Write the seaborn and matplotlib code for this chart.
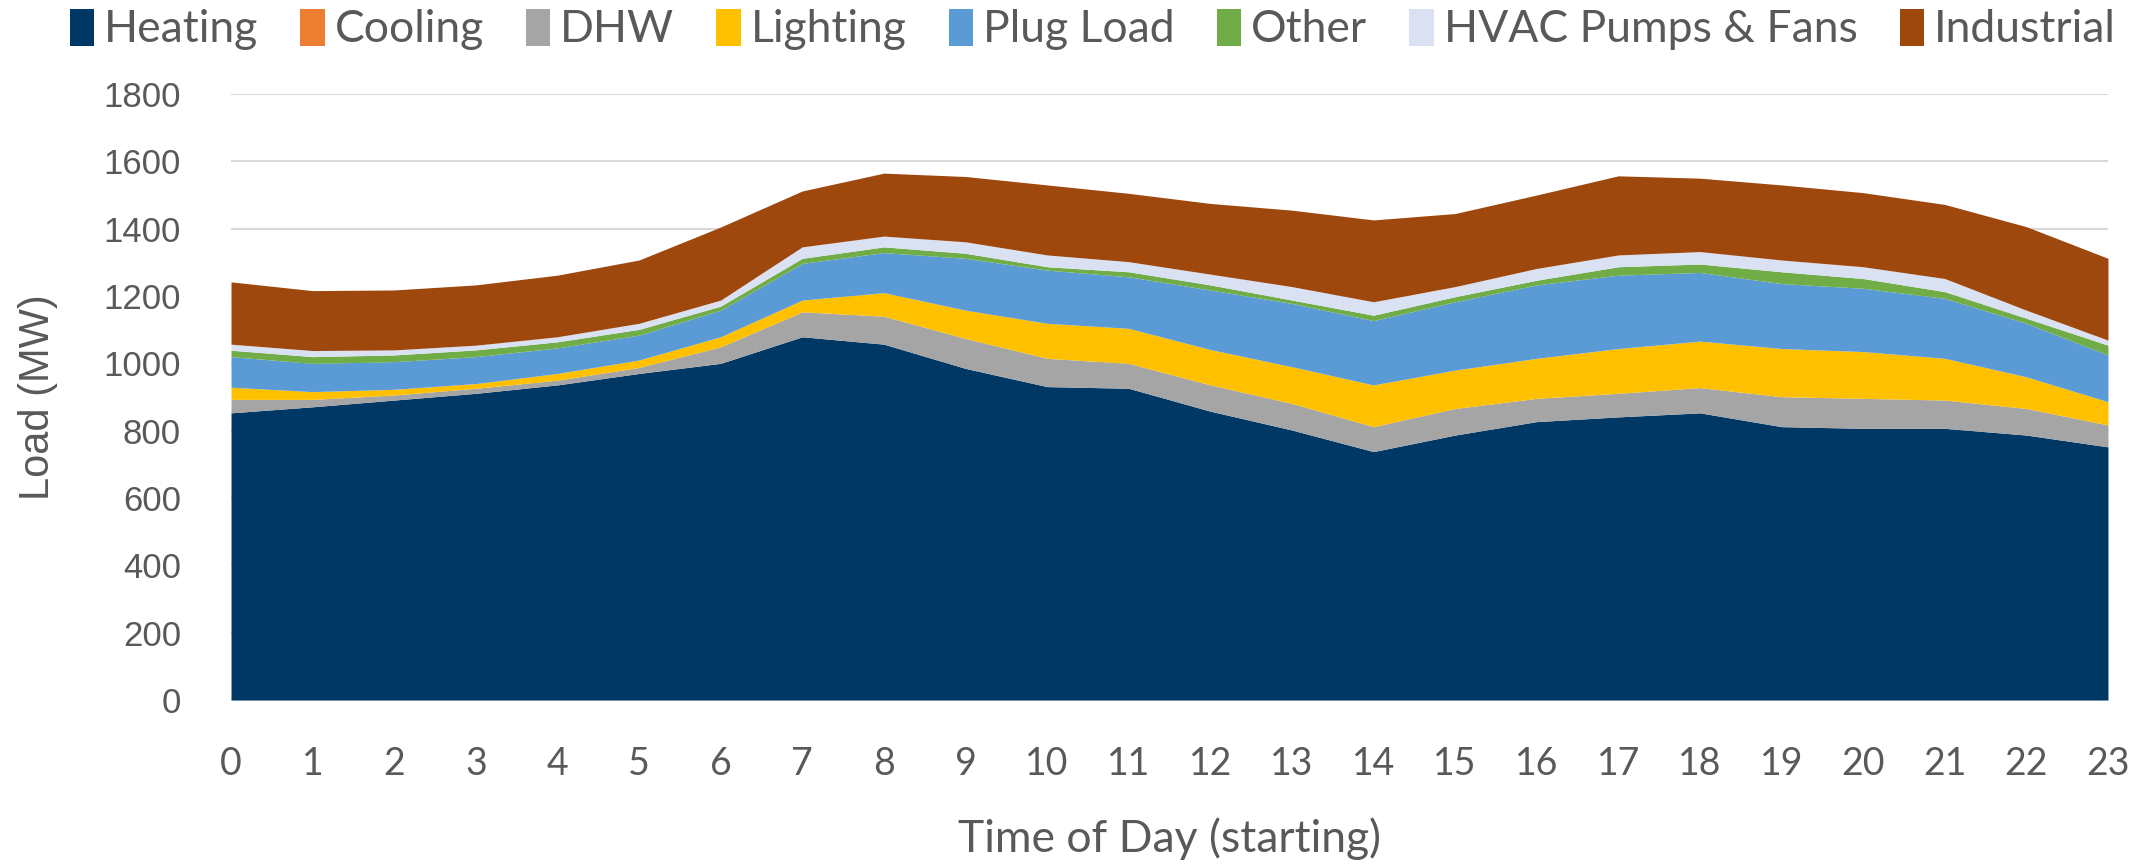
import matplotlib
matplotlib.use("Agg")
import matplotlib.pyplot as plt
import seaborn as sns
from matplotlib.patches import Patch

# hourly load by end use (MW)
hours = list(range(24))
heating = [853, 871, 891, 911, 936, 970, 1000, 1079, 1057, 985, 931, 926,
           858, 802, 738, 787, 827, 841, 853, 812, 807, 807, 787, 752]
cooling = [0] * 24
dhw = [40, 22, 15, 15, 14, 18, 49, 74, 83, 89, 84, 74,
       78, 79, 74, 79, 69, 70, 75, 89, 89, 84, 79, 65]
lighting = [36, 23, 17, 14, 20, 22, 30, 35, 70, 84, 104, 104,
            105, 109, 124, 114, 119, 133, 138, 143, 139, 124, 94, 69]
plug_load = [91, 84, 82, 80, 76, 74, 79, 109, 119, 154, 158, 153,
             177, 188, 191, 203, 218, 218, 204, 193, 188, 178, 159, 139]
other = [19, 20, 20, 20, 18, 17, 12, 15, 17, 15, 10, 15,
         15, 10, 16, 15, 14, 25, 25, 35, 29, 20, 15, 29]
hvac_pumps_fans = [18, 18, 15, 14, 15, 18, 18, 34, 32, 34, 35, 30,
                   32, 40, 40, 30, 35, 35, 37, 35, 35, 39, 24, 15]
industrial = [185, 178, 178, 179, 183, 188, 217, 166, 187, 194, 208, 203,
              210, 227, 243, 217, 218, 235, 218, 223, 220, 220, 248, 243]

labels = ["Heating", "Cooling", "DHW", "Lighting", "Plug Load", "Other",
          "HVAC Pumps & Fans", "Industrial"]
colors = ["#003865", "#ED7D31", "#A5A5A5", "#FFC000", "#5B9BD5", "#70AD47",
          "#D9E1F2", "#9E480E"]
yticks = list(range(0, 1801, 200))

sns.set_theme(style="white")
plt.rcParams['font.family'] = ['Lato', 'DejaVu Sans']
txt = "#595959"

fig = plt.figure(figsize=(21.51, 8.68), dpi=100)
ax = fig.add_axes([0.1074, 0.1935, 0.8726, 0.6982])

ax.stackplot(hours, heating, cooling, dhw, lighting, plug_load, other,
             hvac_pumps_fans, industrial, colors=colors, linewidth=0)

ax.set_xlim(0, 23)
ax.set_ylim(0, 1800)
ax.set_xticks(hours)
ax.set_yticks(yticks)
ax.set_yticklabels([str(v) for v in yticks], family='Liberation Sans')
ax.grid(axis='y', color='#D9D9D9', linewidth=1.5)
ax.grid(axis='x', visible=False)
ax.set_axisbelow(True)
sns.despine(ax=ax, left=True, bottom=True)

ax.tick_params(axis='x', labelsize=27, colors=txt, pad=33, length=0)
ax.tick_params(axis='y', labelsize=25, colors=txt, pad=36, length=0)

ax.set_xlabel("Time of Day (starting)", fontsize=32, color=txt)
ax.set_ylabel("Load (MW)", fontsize=30, color=txt, family='Liberation Sans')
ax.xaxis.set_label_coords(0.5, -0.228)
ax.xaxis.label.set_va('center')
ax.yaxis.set_label_coords(-0.103, 0.5)
ax.yaxis.label.set_va('center')

handles = [Patch(facecolor=c, edgecolor='none') for c in colors]
fig.legend(handles, labels, loc='center', bbox_to_anchor=(0.508, 0.966),
           ncol=8, frameon=False, fontsize=32, labelcolor=txt,
           handlelength=0.55, handleheight=0.9, handletextpad=0.22,
           columnspacing=0.95, borderaxespad=0)

fig.savefig("out.png", dpi=100)
